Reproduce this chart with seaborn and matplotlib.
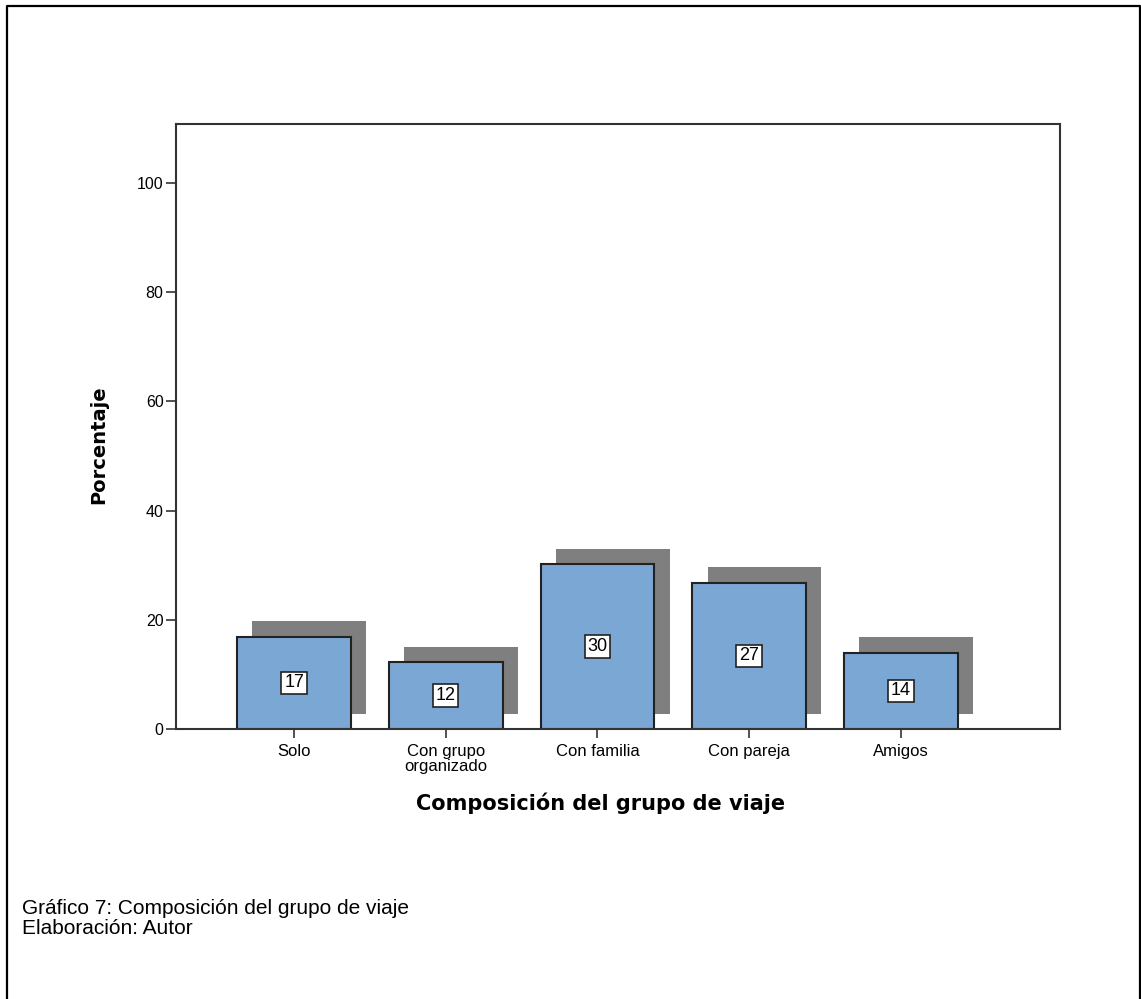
import matplotlib
matplotlib.use("Agg")
import matplotlib.pyplot as plt
import matplotlib.patheffects as pe
from matplotlib.lines import Line2D
import seaborn as sns

# data (percent)
categories = ["Solo", "Con grupo organizado", "Con familia", "Con pareja", "Amigos"]
tick_labels = ["Solo", "Con grupo\norganizado", "Con familia", "Con pareja", "Amigos"]
percent = [16.9, 12.3, 30.2, 26.8, 14.0]
bar_labels = ["17", "12", "30", "27", "14"]
y_ticks = [0, 20, 40, 60, 80, 100]

sns.set_style("white")
plt.rcParams["font.family"] = ["Liberation Sans", "DejaVu Sans"]
plt.rcParams["text.color"] = "black"
plt.rcParams["axes.labelcolor"] = "black"
plt.rcParams["xtick.color"] = "black"
plt.rcParams["ytick.color"] = "black"

fig = plt.figure(figsize=(11.41, 9.99), dpi=100)
ax = fig.add_axes([0.1543, 0.2703, 0.7748, 0.6056])

# blue bars with the grey offset "3D" shadow
sns.barplot(x=categories, y=percent, color="#7ba7d5", saturation=1, width=0.75,
            edgecolor="#222222", linewidth=1.5, ax=ax)
for bar in ax.patches:
    bar.set_path_effects([
        pe.SimplePatchShadow(offset=(11, 11), shadow_rgbFace="#7f7f7f", alpha=1),
        pe.Normal(),
    ])

ax.bar_label(ax.containers[0], labels=bar_labels, label_type="center", fontsize=13,
             bbox=dict(boxstyle="square,pad=0.15", facecolor="white",
                       edgecolor="#222222", linewidth=1.2))

ax.set_xlim(-0.778, 5.05)
ax.set_ylim(0, 110.8)
ax.set_yticks(y_ticks)
ax.set_xticks(range(len(categories)))
ax.set_xticklabels(tick_labels, fontsize=12, linespacing=1.0)
ax.tick_params(axis="y", labelsize=11.5, length=7, width=1.2, direction="out",
               left=True, pad=2, color="#333333")
ax.tick_params(axis="x", length=6.5, width=1.2, direction="out", bottom=True,
               pad=4, color="#333333")

for side in ax.spines.values():
    side.set_visible(True)
    side.set_color("#333333")
    side.set_linewidth(1.5)

ax.set_xlabel("Composición del grupo de viaje", fontsize=15, fontweight="bold",
              family="DejaVu Sans")
ax.set_ylabel("Porcentaje", fontsize=14, fontweight="bold", family="DejaVu Sans")
ax.xaxis.set_label_coords(0.48, -0.105)
ax.yaxis.set_label_coords(-0.077, 0.47)

fig.text(22 / 1141, 1 - 909 / 999, "Gráfico 7: Composición del grupo de viaje",
         fontsize=15, va="center", ha="left")
fig.text(22 / 1141, 1 - 929 / 999, "Elaboración: Autor",
         fontsize=15, va="center", ha="left")

# page frame: left, top and right edges (bottom is cut off)
W, H = 1141, 999
frame_x = [7 / W, 7 / W, 1139.5 / W, 1139.5 / W]
frame_y = [0, 1 - 6 / H, 1 - 6 / H, 0]
fig.add_artist(Line2D(frame_x, frame_y, transform=fig.transFigure,
                      color="black", linewidth=1.6))

fig.savefig("out.png", dpi=100)
